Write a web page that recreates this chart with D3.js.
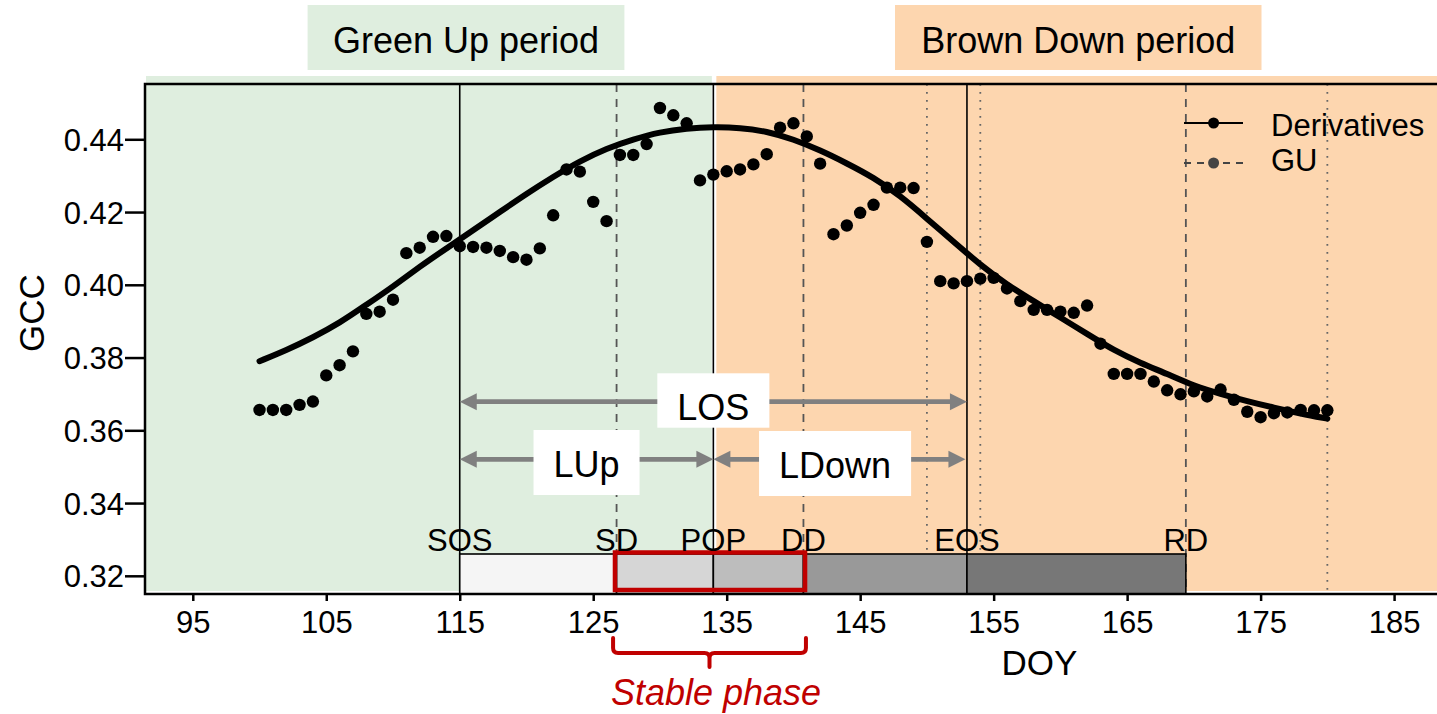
<!DOCTYPE html>
<html>
<head>
<meta charset="utf-8">
<script src="https://cdn.jsdelivr.net/npm/d3@7"></script>
<style>
  html, body { margin: 0; padding: 0; background: #ffffff; }
  svg { display: block; }
  text { font-family: "Liberation Sans", Arial, Helvetica, sans-serif; fill: #000; }
</style>
</head>
<body>
<svg id="chart" width="1437" height="714"></svg>
<script>
// Daily green chromatic coordinate observations
const obsDoy = [100,101,102,103,104,105,106,107,108,109,110,111,112,113,114,115,116,117,118,119,
                120,121,122,123,124,125,126,127,128,129,130,131,132,133,134,135,136,137,138,139,
                140,141,142,143,144,145,146,147,148,149,150,151,152,153,154,155,156,157,158,159,
                160,161,162,163,164,165,166,167,168,169,170,171,172,173,174,175,176,177,178,179,180];
const obsGcc = [0.3656,0.3656,0.3656,0.3670,0.3679,0.3751,0.3779,0.3817,0.3920,0.3926,
                0.3959,0.4087,0.4102,0.4132,0.4134,0.4106,0.4104,0.4102,0.4093,0.4076,
                0.4069,0.4100,0.4191,0.4317,0.4311,0.4228,0.4175,0.4357,0.4357,0.4387,
                0.4486,0.4466,0.4444,0.4287,0.4303,0.4312,0.4317,0.4331,0.4359,0.4432,
                0.4444,0.4408,0.4333,0.4139,0.4163,0.4198,0.4220,0.4267,0.4267,0.4266,
                0.4118,0.4010,0.4004,0.4010,0.4017,0.4019,0.3990,0.3955,0.3931,0.3931,
                0.3926,0.3923,0.3943,0.3838,0.3755,0.3755,0.3755,0.3734,0.3710,0.3699,
                0.3707,0.3693,0.3712,0.3684,0.3651,0.3636,0.3647,0.3649,0.3656,0.3655,0.3655];

// Fitted seasonal curve
const fitDoy = [100,102,104,106,108,110,112,114,116,118,120,122,124,126,128,130,132,134,136,138,
                140,142,144,146,148,150,152,154,156,158,160,162,164,166,168,170,172,174,176,178,180];
const fitGcc = [0.3790,0.3820,0.3855,0.3895,0.3945,0.3995,0.4050,0.4100,0.4150,0.4200,
                0.4250,0.4297,0.4340,0.4375,0.4400,0.4420,0.4430,0.4434,0.4432,0.4422,
                0.4400,0.4370,0.4334,0.4295,0.4245,0.4182,0.4118,0.4055,0.4000,0.3955,
                0.3910,0.3865,0.3820,0.3785,0.3755,0.3722,0.3700,0.3680,0.3662,0.3646,0.3632];

// Axis ticks
const xTicks = [95,105,115,125,135,145,155,165,175,185];
const yTicks = [0.32,0.34,0.36,0.38,0.40,0.42,0.44];

// Phenological transition dates
const stageNames = ["SOS","SD","POP","DD","EOS","RD"];
const stageDoy   = [115,126.75,134,140.75,153,169.4];
const derivDoy   = [115,134,153];          // Derivatives method
const guDoy      = [126.75,140.75,169.4];  // GU method
const otherDoy   = [150,154,180];

// Season length spans
const spanNames = ["LOS","LUp","LDown"];
const spanFrom  = [115,115,134];
const spanTo    = [153,134,153];

const stageFills = ["#f5f5f5","#d6d6d6","#bdbdbd","#999999","#777777"];
const GREEN = "#dfeedf", PEACH = "#fdd6af", RED = "#c00000", ARROW = "#808080";

const svg = d3.select("#chart");
const plotLeft = 145, plotTop = 84, plotBottom = 594, plotRight = 1440;

const x = d3.scaleLinear().domain([91.42, 188.44]).range([plotLeft, plotRight]);
const y = d3.scaleLinear().domain([0.315, 0.4552]).range([plotBottom, plotTop]);

const popX = x(stageDoy[2]);

// Period backgrounds
svg.append("rect").attr("x", plotLeft + 1).attr("y", 76)
  .attr("width", popX - 1.5 - (plotLeft + 1)).attr("height", 591 - 76).attr("fill", GREEN);
svg.append("rect").attr("x", popX + 3).attr("y", 76)
  .attr("width", 1437 - popX - 3).attr("height", 591 - 76).attr("fill", PEACH);

// Period title boxes
svg.append("rect").attr("x", 307.6).attr("y", 5).attr("width", 316.8).attr("height", 65).attr("fill", GREEN);
svg.append("text").attr("x", 466).attr("y", 53).attr("text-anchor", "middle")
  .style("font-size", "36px").text("Green Up period");
svg.append("rect").attr("x", 895).attr("y", 5).attr("width", 366.5).attr("height", 65).attr("fill", PEACH);
svg.append("text").attr("x", 1078.3).attr("y", 53).attr("text-anchor", "middle")
  .style("font-size", "36px").text("Brown Down period");

// Transition date lines
const vlines = svg.append("g");
vlines.append("g").selectAll("line").data(derivDoy).join("line")
  .attr("x1", d => x(d)).attr("x2", d => x(d)).attr("y1", plotTop).attr("y2", plotBottom)
  .attr("stroke", "#000").attr("stroke-width", 1.6);
vlines.append("g").selectAll("line").data(guDoy).join("line")
  .attr("x1", d => x(d)).attr("x2", d => x(d)).attr("y1", plotTop).attr("y2", plotBottom)
  .attr("stroke", "#555").attr("stroke-width", 1.8).attr("stroke-dasharray", "8,7");
vlines.append("g").selectAll("line").data(otherDoy).join("line")
  .attr("x1", d => x(d)).attr("x2", d => x(d)).attr("y1", plotTop).attr("y2", plotBottom)
  .attr("stroke", "#666").attr("stroke-width", 1.8).attr("stroke-dasharray", "1.8,6.2");

// Season length arrows with labels
const arrowY = [401.7, 459.3, 459.3];
const boxGeom = [ {y0: 373.3, h: 54.4, base: 420},
                  {y0: 430,   h: 65,   base: 476.7},
                  {y0: 431,   h: 65,   base: 478} ];
const arrows = svg.append("g");
spanNames.forEach((name, i) => {
  const x0 = x(spanFrom[i]), x1 = x(spanTo[i]) - (i === 2 ? 1.5 : 0), yy = arrowY[i];
  const hl = 17, hw = 8.5;
  arrows.append("line").attr("x1", x0 + hl - 2).attr("x2", x1 - hl + 2).attr("y1", yy).attr("y2", yy)
    .attr("stroke", ARROW).attr("stroke-width", 4.8);
  arrows.append("path").attr("d", `M${x0},${yy} L${x0 + hl},${yy - hw} L${x0 + hl},${yy + hw} Z`).attr("fill", ARROW);
  arrows.append("path").attr("d", `M${x1},${yy} L${x1 - hl},${yy - hw} L${x1 - hl},${yy + hw} Z`).attr("fill", ARROW);
});
spanNames.forEach((name, i) => {
  const cx = i === 2 ? x(spanFrom[i]) + (x(spanTo[i]) - x(spanFrom[i])) * 0.48
                     : (x(spanFrom[i]) + x(spanTo[i])) / 2;
  const g = arrows.append("g");
  const rect = g.append("rect").attr("fill", "#fff");
  const t = g.append("text").attr("x", cx).attr("y", boxGeom[i].base).attr("text-anchor", "middle")
    .style("font-size", "36px").text(name);
  const w = t.node().getComputedTextLength() + 40;
  rect.attr("x", cx - w / 2).attr("y", boxGeom[i].y0).attr("width", w).attr("height", boxGeom[i].h);
});

// Stage bar between consecutive transition dates
const barTop = 554;
const bar = svg.append("g");
bar.selectAll("rect").data(d3.range(stageDoy.length - 1)).join("rect")
  .attr("x", i => x(stageDoy[i])).attr("y", barTop)
  .attr("width", i => x(stageDoy[i + 1]) - x(stageDoy[i])).attr("height", plotBottom - barTop)
  .attr("fill", i => stageFills[i]).attr("stroke", "#000").attr("stroke-width", 1.6);

// Stable phase highlight
const sdX = x(stageDoy[1]), ddX = x(stageDoy[3]);
svg.append("rect").attr("x", sdX - 1.6).attr("y", 552.5)
  .attr("width", ddX + 1.6 - (sdX - 1.6)).attr("height", 590 - 552.5)
  .attr("fill", "none").attr("stroke", RED).attr("stroke-width", 4.5);

// Stage labels
svg.append("g").selectAll("text").data(stageNames).join("text")
  .attr("x", (d, i) => x(stageDoy[i])).attr("y", 551).attr("text-anchor", "middle")
  .style("font-size", "31px").text(d => d);

// Observations
svg.append("g").selectAll("circle").data(obsDoy).join("circle")
  .attr("cx", (d) => x(d)).attr("cy", (d, i) => y(obsGcc[i])).attr("r", 6.2).attr("fill", "#000");

// Fitted curve
const fitLine = d3.line().x(d => x(d[0])).y(d => y(d[1])).curve(d3.curveBasis);
svg.append("path").datum(fitDoy.map((d, i) => [d, fitGcc[i]]))
  .attr("d", fitLine).attr("fill", "none").attr("stroke", "#000")
  .attr("stroke-width", 6).attr("stroke-linecap", "round").attr("stroke-linejoin", "round");

// Legend
const lg = svg.append("g");
lg.append("line").attr("x1", 1184).attr("x2", 1243).attr("y1", 123).attr("y2", 123)
  .attr("stroke", "#000").attr("stroke-width", 1.8);
lg.append("circle").attr("cx", 1213.6).attr("cy", 123).attr("r", 5.5).attr("fill", "#000");
lg.append("text").attr("x", 1271).attr("y", 136).style("font-size", "31px").text("Derivatives");
lg.append("line").attr("x1", 1184).attr("x2", 1243).attr("y1", 163).attr("y2", 163)
  .attr("stroke", "#444").attr("stroke-width", 1.8).attr("stroke-dasharray", "7,6");
lg.append("circle").attr("cx", 1213.6).attr("cy", 163).attr("r", 5.5).attr("fill", "#444");
lg.append("text").attr("x", 1271).attr("y", 171).style("font-size", "31px").text("GU");

// Frame
svg.append("path").attr("d", `M1437,${plotTop} H${plotLeft} V${plotBottom} H1437`)
  .attr("fill", "none").attr("stroke", "#000").attr("stroke-width", 2.5);

// Axes
const xAxis = svg.append("g").attr("transform", `translate(0,${plotBottom})`)
  .call(d3.axisBottom(x).tickValues(xTicks).tickSize(7).tickSizeOuter(0).tickPadding(10).tickFormat(d3.format("d")));
const yAxis = svg.append("g").attr("transform", `translate(${plotLeft},0)`)
  .call(d3.axisLeft(y).tickValues(yTicks).tickSize(20).tickSizeOuter(0).tickPadding(1).tickFormat(d3.format(".2f")));
[xAxis, yAxis].forEach(a => {
  a.select(".domain").remove();
  a.selectAll(".tick line").attr("stroke", "#000").attr("stroke-width", 2.5);
  a.selectAll(".tick text").style("font-size", "31px").style("font-family", "'Liberation Sans', Arial, sans-serif").attr("fill", "#000");
});
yAxis.selectAll(".tick text").attr("dy", "0.36em");

// Axis titles
svg.append("text").attr("x", 1039.4).attr("y", 675).attr("text-anchor", "middle")
  .style("font-size", "35px").text("DOY");
svg.append("text").attr("transform", "translate(44,313) rotate(-90)").attr("text-anchor", "middle")
  .style("font-size", "35px").text("GCC");

// Stable phase brace
const bl = sdX - 3.5, br = ddX + 2.5, bm = (bl + br) / 2;
svg.append("path")
  .attr("d", `M${bl},638 V648 Q${bl},653 ${bl + 5},653 H${bm - 5} Q${bm},653 ${bm},658 V667 ` +
             `M${bm},658 Q${bm},653 ${bm + 5},653 H${br - 5} Q${br},653 ${br},648 V638`)
  .attr("fill", "none").attr("stroke", RED).attr("stroke-width", 4).attr("stroke-linecap", "round");
svg.append("text").attr("x", 716).attr("y", 705).attr("text-anchor", "middle")
  .style("font-size", "36px").style("font-style", "italic").style("fill", RED).text("Stable phase");
</script>
</body>
</html>
